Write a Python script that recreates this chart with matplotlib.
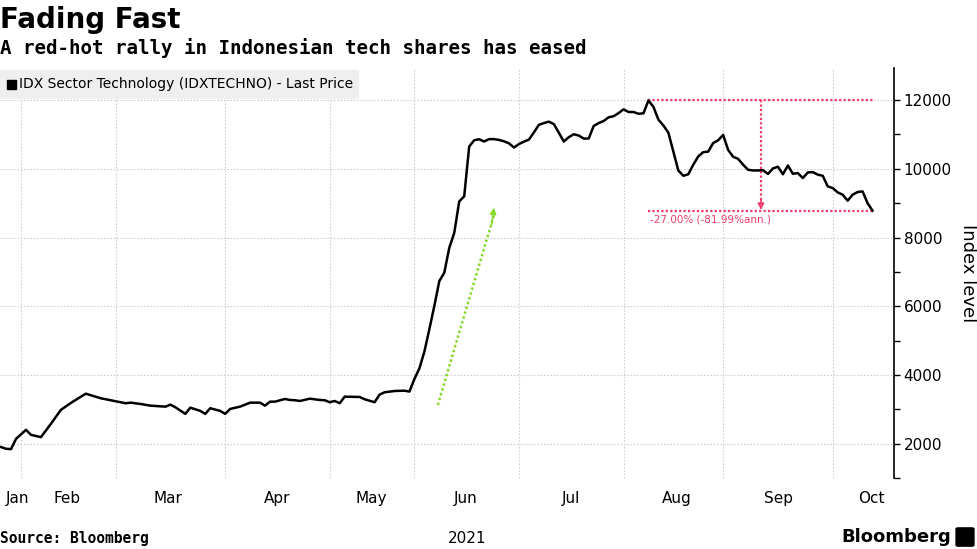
import matplotlib.pyplot as plt
from matplotlib.patches import FancyBboxPatch

# Data: trading-day index (0 = 25 Jan 2021) and index level
day = [1, 2, 3, 4, 6, 7, 9, 11, 13, 15, 18, 21, 24, 26, 27, 29, 31, 34, 35, 36,
       38, 39, 41, 42, 43, 45, 46, 47, 49, 51, 53, 54, 55, 56, 58, 59, 60, 61, 63, 65,
       66, 67, 68, 69, 70, 73, 74, 76, 77, 78, 80, 82, 83, 84, 85, 86, 87, 88, 89, 90,
       91, 92, 93, 94, 95, 96, 97, 98, 99, 100, 101, 102, 103, 104, 105, 106, 107, 108, 109, 110,
       111, 112, 113, 114, 115, 116, 117, 118, 119, 120, 121, 122, 123, 124, 125, 126, 127, 128, 129, 130,
       131, 132, 133, 134, 135, 136, 137, 138, 139, 140, 141, 142, 143, 144, 145, 146, 147, 148, 149, 150,
       151, 152, 153, 154, 155, 156, 157, 158, 159, 160, 161, 162, 163, 164, 165, 166, 167, 168, 169, 170,
       171, 172, 173, 174, 175, 176]
level = [1904, 1855, 1846, 2145, 2406, 2261, 2194, 2580, 2986, 3188, 3458, 3325, 3238, 3180, 3197, 3159, 3110, 3081, 3139, 3063,
         2870, 3052, 2957, 2870, 3035, 2957, 2870, 3014, 3081, 3197, 3197, 3110, 3226, 3226, 3304, 3275, 3267, 3246, 3313, 3275,
         3267, 3209, 3246, 3180, 3372, 3362, 3296, 3209, 3430, 3498, 3536, 3545, 3520, 3884, 4194, 4680, 5333, 6009, 6733, 6977,
         7700, 8136, 9052, 9200, 10648, 10830, 10860, 10793, 10863, 10863, 10840, 10800, 10740, 10618, 10720, 10790, 10850, 11060, 11280, 11330,
         11372, 11300, 11050, 10793, 10920, 11006, 10967, 10880, 10880, 11246, 11330, 11390, 11498, 11530, 11620, 11730, 11652, 11652, 11600, 11614,
         11990, 11800, 11430, 11260, 11050, 10500, 9950, 9797, 9840, 10120, 10360, 10484, 10500, 10750, 10830, 10986, 10550, 10350, 10290, 10120,
         9971, 9952, 9952, 9960, 9850, 10010, 10060, 9840, 10096, 9855, 9875, 9730, 9894, 9904, 9830, 9797, 9488, 9440, 9314, 9247,
         9073, 9247, 9324, 9343, 9000, 8783]

month_starts = [5, 24, 46, 67, 84, 105, 126, 146, 168]
month_labels = ['Jan', 'Feb', 'Mar', 'Apr', 'May', 'Jun', 'Jul', 'Aug', 'Sep', 'Oct']
month_label_pos = [4.4, 14.2, 34.5, 56.4, 75.3, 94.2, 115.4, 136.7, 157.2, 175.7]

# annotations
peak_day, peak_val = 131, 12000
last_day, last_val = 176, 8783
drop_day = 153.6
rally_start = (88.7, 3130)
rally_end = (100.0, 8870)

pink = '#ee3a6a'
green = '#86d92a'
dots = (0, (1, 1))

fig = plt.figure(figsize=(9.77, 5.49), dpi=100)
ax = fig.add_axes([0.0, 0.129, 0.915, 0.747])

ax.plot(day, level, color='black', lw=1.8, zorder=4)

ax.set_xlim(0.78, 180.3)
ax.set_ylim(1040, 12930)

# grid
ax.set_xticks(month_starts)
ax.set_xticklabels([])
ax.set_xticks(month_label_pos, minor=True)
ax.set_xticklabels(month_labels, minor=True)
ax.tick_params(axis='x', which='both', length=0, pad=9, labelsize=11)
ax.set_yticks(range(2000, 12001, 2000))
ax.set_yticks(range(1000, 13000, 2000), minor=True)
ax.grid(True, which='major', color='#d0d0d0', linestyle=(0, (1.5, 1.5)), lw=0.8)
ax.yaxis.tick_right()
ax.yaxis.set_label_position('right')
ax.tick_params(axis='y', which='both', direction='out', length=4, width=1, labelsize=11, pad=3)
ax.set_ylabel('Index level', rotation=270, fontsize=13, labelpad=18)
for s in ['top', 'left', 'bottom']:
    ax.spines[s].set_visible(False)
ax.spines['right'].set_linewidth(1.2)

ax.text(month_label_pos[5] - 3.5, -0.13, '2021', transform=ax.get_xaxis_transform(),
        ha='left', va='top', fontsize=11)

# drawdown annotation
ax.plot([peak_day, last_day], [peak_val, peak_val], color=pink, lw=1.6, ls=dots, zorder=3)
ax.plot([peak_day, last_day], [last_val, last_val], color=pink, lw=1.6, ls=dots, zorder=3)
ax.plot([drop_day, drop_day], [peak_val, last_val + 250], color=pink, lw=1.6, ls=dots, zorder=3)
ax.annotate('', xy=(drop_day, last_val + 20), xytext=(drop_day, last_val + 300),
            arrowprops=dict(arrowstyle='-|>', color=pink, lw=1.2, fill=False,
                            mutation_scale=9, shrinkA=0, shrinkB=0), zorder=3)
ax.text(peak_day + 0.3, last_val - 120, '-27.00% (-81.99%ann.)', color=pink,
        fontsize=7.5, ha='left', va='top')

# rally arrow
ax.plot([rally_start[0], rally_end[0]], [rally_start[1], rally_end[1] - 200],
        color=green, lw=1.8, ls=dots, zorder=3)
ax.annotate('', xy=rally_end, xytext=(rally_end[0] - 0.5, rally_end[1] - 500),
            arrowprops=dict(arrowstyle='-|>', color=green, lw=1.2, fill=False,
                            mutation_scale=9, shrinkA=0, shrinkB=0), zorder=3)

# legend box
fig.patches.append(plt.Rectangle((0, 1 - 98 / 549), 358 / 977, 28 / 549,
                                 transform=fig.transFigure, color='#efefef', zorder=1))
fig.patches.append(plt.Rectangle((7 / 977, 1 - 89 / 549), 9 / 977, 9 / 549,
                                 transform=fig.transFigure, color='black', zorder=2))
fig.text(19 / 977, 1 - 84 / 549, 'IDX Sector Technology (IDXTECHNO) - Last Price',
         fontsize=10, va='center', ha='left', zorder=3)

# titles
fig.text(0.0, 1 - 20 / 549, 'Fading Fast', fontsize=20, fontweight='bold', va='center', ha='left')
fig.text(0.0, 1 - 48 / 549, 'A red-hot rally in Indonesian tech shares has eased',
         fontsize=13.8, fontweight='bold', family='DejaVu Sans Mono', va='center', ha='left')
fig.text(0.0, 1 - 538 / 549, 'Source: Bloomberg', fontsize=10.5, fontweight='bold',
         family='DejaVu Sans Mono', va='center', ha='left')
fig.text(951 / 977, 1 - 537 / 549, 'Bloomberg', fontsize=13, fontweight='bold',
         va='center', ha='right')
fig.patches.append(FancyBboxPatch((958 / 977, 1 - 545 / 549), 14 / 977, 16 / 549,
                                  boxstyle='round,pad=0.002', transform=fig.transFigure,
                                  color='black'))

fig.savefig('out.png', dpi=100)
